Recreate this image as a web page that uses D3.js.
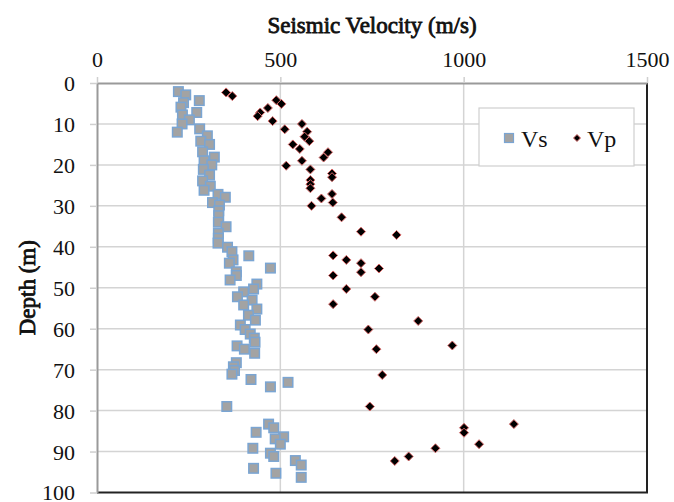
<!DOCTYPE html>
<html>
<head>
<meta charset="utf-8">
<script src="https://cdn.jsdelivr.net/npm/d3@7"></script>
<style>
  body { margin: 0; background: #fff; }
  text { font-family: "Liberation Serif", "DejaVu Serif", serif; }
</style>
</head>
<body>
<div id="graph"></div>
<script>
// Vs (shear wave) readings: depth (m) and velocity (m/s)
var vsDepth = [2.1, 2.9, 4.3, 4.8, 5.9, 7.2, 7.8, 9.0, 10.0, 11.2, 12.0, 12.9, 14.2, 15.0, 16.8, 18.1, 19.0, 20.0,
  21.1, 22.5, 23.9, 25.2, 26.2, 27.2, 27.9, 29.2, 29.8, 31.2, 32.4, 34.0, 35.1, 36.7, 37.9, 39.1, 40.1, 41.2,
  42.2, 43.2, 44.0, 45.2, 46.1, 47.0, 48.1, 49.1, 50.3, 51.0, 52.2, 53.0, 54.2, 55.2, 56.7, 57.9, 59.1, 60.2,
  61.3, 62.3, 63.3, 64.2, 65.0, 66.0, 68.3, 69.3, 70.2, 71.1, 72.4, 73.1, 74.2, 79.0, 83.3, 84.2, 85.3, 86.4,
  86.9, 88.2, 89.2, 90.4, 91.2, 92.2, 93.3, 94.1, 95.3, 96.3];
var vsVel = [222, 242, 279, 236, 229, 272, 233, 252, 232, 280, 219, 301, 283, 307, 288, 320, 292, 313,
  290, 307, 288, 309, 292, 330, 350, 315, 334, 332, 332, 331, 352, 331, 331, 330, 356, 368,
  414, 371, 361, 473, 380, 380, 363, 436, 427, 400, 383, 423, 400, 436, 413, 432, 391, 404,
  418, 429, 431, 382, 402, 430, 380, 372, 375, 368, 420, 521, 473, 354, 468, 482, 434, 509,
  486, 500, 425, 473, 482, 541, 557, 427, 488, 557];

// Vp (compression wave) readings
var vpDepth = [2.3, 3.2, 4.2, 5.1, 6.1, 7.2, 8.1, 9.3, 10.0, 11.3, 11.9, 13.1, 14.2, 15.0, 16.1, 16.9, 18.2,
  19.0, 20.2, 21.1, 22.1, 23.0, 23.7, 24.7, 25.7, 27.1, 28.2, 29.2, 30.0, 32.8, 36.3, 37.1, 42.1, 43.2, 44.0,
  45.3, 46.2, 47.0, 50.3, 52.2, 54.0, 58.1, 60.2, 64.1, 65.0, 71.3, 79.0, 83.3, 84.2, 85.4, 88.2, 89.2, 91.2, 92.3];
var vpVel = [352, 369, 489, 503, 466, 445, 438, 479, 559, 512, 573, 566, 579, 534, 553, 630, 618,
  559, 516, 582, 641, 641, 582, 582, 582, 641, 612, 643, 585, 667, 720, 817, 644, 680, 720,
  769, 720, 644, 680, 758, 644, 876, 740, 969, 762, 778, 744, 1137, 1001, 1001, 1042, 923, 850, 812];

var xTicks = [0, 500, 1000, 1500];
var yTicks = [0, 10, 20, 30, 40, 50, 60, 70, 80, 90, 100];
var seriesNames = ["Vs", "Vp"];

var frameWidth = 674,
  frameHeight = 502;
var margin = { top: 83, right: 27, bottom: 9.5, left: 97 },
  width = frameWidth - margin.left - margin.right,
  height = frameHeight - margin.top - margin.bottom;

var svg = d3
  .select("#graph")
  .append("svg")
  .attr("width", frameWidth)
  .attr("height", frameHeight);

var g = svg.append("g").attr("transform", "translate(" + margin.left + "," + margin.top + ")");

var xScale = d3.scaleLinear().domain([0, 1500]).range([0, width]);
var yScale = d3.scaleLinear().domain([0, 100]).range([0, height]); // depth grows downwards

// grid lines
g.append("g")
  .selectAll("line")
  .data(yTicks.slice(1, -1))
  .enter()
  .append("line")
  .attr("x1", 0)
  .attr("x2", width)
  .attr("y1", function (d) { return yScale(d); })
  .attr("y2", function (d) { return yScale(d); })
  .attr("stroke", "#d4d4d4")
  .attr("stroke-width", 1.5);

g.append("g")
  .selectAll("line")
  .data(xTicks.slice(1, -1))
  .enter()
  .append("line")
  .attr("x1", function (d) { return xScale(d); })
  .attr("x2", function (d) { return xScale(d); })
  .attr("y1", 0)
  .attr("y2", height)
  .attr("stroke", "#d4d4d4")
  .attr("stroke-width", 1.5);

// right and bottom border (dark)
g.append("path")
  .attr("d", "M" + width + ",0V" + height + "H0")
  .attr("fill", "none")
  .attr("stroke", "#222")
  .attr("stroke-width", 2);

// axes
var xAxis = g.append("g")
  .call(d3.axisTop(xScale).tickValues(xTicks).tickFormat(d3.format("d"))
    .tickSize(6).tickSizeOuter(0).tickPadding(10));
var yAxis = g.append("g")
  .call(d3.axisLeft(yScale).tickValues(yTicks).tickFormat(d3.format("d"))
    .tickSize(7).tickSizeOuter(0).tickPadding(15));

[xAxis, yAxis].forEach(function (a) {
  a.select(".domain").attr("stroke", "#9a9a9a").attr("stroke-width", 2);
  a.selectAll(".tick line").attr("stroke", "#cfcfcf").attr("stroke-width", 1.5);
  a.selectAll(".tick text")
    .attr("font-family", "Liberation Serif")
    .attr("font-size", 22)
    .attr("fill", "#111");
});
yAxis.selectAll(".tick text").attr("dy", "0.34em");

// Vs squares
var sq = 9.5;
g.append("g")
  .selectAll("rect")
  .data(vsDepth)
  .enter()
  .append("rect")
  .attr("x", function (d, i) { return xScale(vsVel[i]) - sq / 2; })
  .attr("y", function (d) { return yScale(d) - sq / 2; })
  .attr("width", sq)
  .attr("height", sq)
  .attr("fill", "#a3a3a3")
  .attr("stroke", "#7aa5d3")
  .attr("stroke-width", 1.5);

// Vp diamonds
var dm = 4.5;
g.append("g")
  .selectAll("path")
  .data(vpDepth)
  .enter()
  .append("path")
  .attr("transform", function (d, i) {
    return "translate(" + xScale(vpVel[i]) + "," + yScale(d) + ")";
  })
  .attr("d", "M0,-" + dm + "L" + dm + ",0L0," + dm + "L-" + dm + ",0Z")
  .attr("fill", "#000")
  .attr("stroke", "#d96a6a")
  .attr("stroke-width", 1);

// titles (bold face faked with a thin stroke, the bold serif face is not picked up)
svg.append("text")
  .attr("x", margin.left + width / 2)
  .attr("y", 33)
  .attr("text-anchor", "middle")
  .attr("font-family", "Liberation Serif")
  .attr("font-size", 23)
  .attr("fill", "#111")
  .attr("stroke", "#111")
  .attr("stroke-width", 0.8)
  .text("Seismic Velocity (m/s)");

svg.append("text")
  .attr("transform", "translate(35," + (margin.top + height / 2) + ") rotate(-90)")
  .attr("text-anchor", "middle")
  .attr("font-family", "Liberation Serif")
  .attr("font-size", 23)
  .attr("fill", "#111")
  .attr("stroke", "#111")
  .attr("stroke-width", 0.8)
  .text("Depth (m)");

// legend
var legend = svg.append("g").attr("class", "colorLegend");
legend.append("rect")
  .attr("x", 479)
  .attr("y", 108)
  .attr("width", 155)
  .attr("height", 58)
  .attr("fill", "#fff")
  .attr("stroke", "#cfcfcf")
  .attr("stroke-width", 1.2);

legend.selectAll(".colorLegendText")
  .data(seriesNames)
  .enter()
  .append("text")
  .attr("x", function (d, i) { return 521 + i * 66; })
  .attr("y", 147)
  .attr("font-size", 24)
  .attr("fill", "#111")
  .text(function (d) { return d; });

legend.append("rect")
  .attr("x", 504.5)
  .attr("y", 133.5)
  .attr("width", 9)
  .attr("height", 9)
  .attr("fill", "#a3a3a3")
  .attr("stroke", "#7aa5d3")
  .attr("stroke-width", 1.2);

legend.append("path")
  .attr("transform", "translate(577,138)")
  .attr("d", "M0,-3.5L3.5,0L0,3.5L-3.5,0Z")
  .attr("fill", "#000")
  .attr("stroke", "#d96a6a")
  .attr("stroke-width", 1);
</script>
</body>
</html>
